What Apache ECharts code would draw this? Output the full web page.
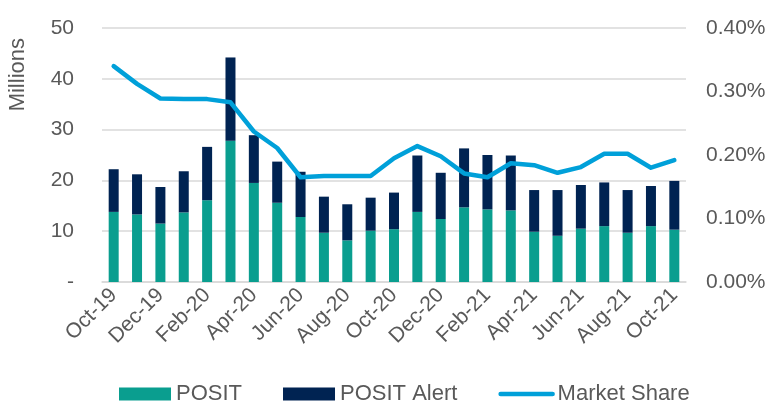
<!DOCTYPE html>
<html>
<head>
<meta charset="utf-8">
<script src="https://cdn.jsdelivr.net/npm/echarts@6/dist/echarts.min.js"></script>
</head>
<body style="margin:0">
<div id="container" style="width:777px;height:403px"></div>
<script>
var months = ['Oct-19','Nov-19','Dec-19','Jan-20','Feb-20','Mar-20','Apr-20','May-20','Jun-20','Jul-20',
  'Aug-20','Sep-20','Oct-20','Nov-20','Dec-20','Jan-21','Feb-21','Mar-21','Apr-21','May-21',
  'Jun-21','Jul-21','Aug-21','Sep-21','Oct-21'];
// millions
var posit = [13.8,13.3,11.5,13.7,16.1,27.8,19.5,15.6,12.8,9.7,
  8.2,10.1,10.4,13.8,12.4,14.7,14.3,14.1,9.9,9.1,
  10.5,11.0,9.7,11.0,10.3];
var positTotal = [22.2,21.2,18.7,21.8,26.6,44.2,28.9,23.7,21.7,16.8,
  15.3,16.6,17.6,24.9,21.5,26.3,25.0,24.9,18.1,18.1,
  19.1,19.6,18.1,18.9,19.9];
var positAlert = positTotal.map(function (t, i) { return +(t - posit[i]).toFixed(1); });
// percent
var marketShare = [0.340,0.312,0.289,0.288,0.288,0.283,0.237,0.211,0.165,0.167,
  0.167,0.167,0.195,0.214,0.198,0.171,0.165,0.187,0.184,0.172,
  0.181,0.202,0.202,0.180,0.192];

var txt = '#595959';
var font = 'Liberation Sans, Arial, sans-serif';
var chart = echarts.init(document.getElementById('container'));
chart.setOption({
  animation: false,
  textStyle: { fontFamily: font },
  grid: { left: 102, right: 91, top: 28, bottom: 121 },
  legend: {
    bottom: -7,
    left: 114,
    itemWidth: 52,
    itemHeight: 13,
    itemGap: 41,
    textStyle: { color: txt, fontSize: 22 },
    data: [
      { name: 'POSIT', icon: 'rect' },
      { name: 'POSIT Alert', icon: 'rect' },
      { name: 'Market Share', itemStyle: { opacity: 0 }, lineStyle: { width: 4.5, cap: 'round' } }
    ]
  },
  graphic: [{
    type: 'text',
    left: 7,
    top: 38,
    rotation: Math.PI / 2,
    style: { text: 'Millions', fill: txt, fontSize: 22, fontFamily: font }
  }],
  xAxis: {
    type: 'category',
    data: months,
    axisLine: { lineStyle: { color: '#d9d9d9', width: 1.5 } },
    axisTick: { interval: 1, length: 6, lineStyle: { color: '#d9d9d9', width: 1.5 } },
    axisLabel: { interval: 1, rotate: 45, color: txt, fontSize: 21, margin: 10 }
  },
  yAxis: [{
    type: 'value',
    min: 0, max: 50, interval: 10,
    axisLine: { show: false },
    axisTick: { show: false },
    splitLine: { lineStyle: { color: '#d9d9d9', width: 1.5 } },
    axisLabel: {
      color: txt, fontSize: 21, margin: 28,
      formatter: function (v) { return v === 0 ? '-' : v; }
    }
  }, {
    type: 'value',
    min: 0, max: 0.4, interval: 0.1,
    axisLine: { show: false },
    axisTick: { show: false },
    splitLine: { show: false },
    axisLabel: {
      color: txt, fontSize: 21, margin: 20,
      formatter: function (v) { return v.toFixed(2) + '%'; }
    }
  }],
  series: [{
    name: 'POSIT',
    type: 'bar',
    stack: 'vol',
    barWidth: 10,
    itemStyle: { color: '#0a9e8f' },
    data: posit
  }, {
    name: 'POSIT Alert',
    type: 'bar',
    stack: 'vol',
    barWidth: 10,
    itemStyle: { color: '#002352' },
    data: positAlert
  }, {
    name: 'Market Share',
    type: 'line',
    yAxisIndex: 1,
    symbol: 'none',
    lineStyle: { color: '#00a0d9', width: 4.5, cap: 'round', join: 'round' },
    itemStyle: { color: '#00a0d9' },
    data: marketShare
  }]
});
</script>
</body>
</html>
